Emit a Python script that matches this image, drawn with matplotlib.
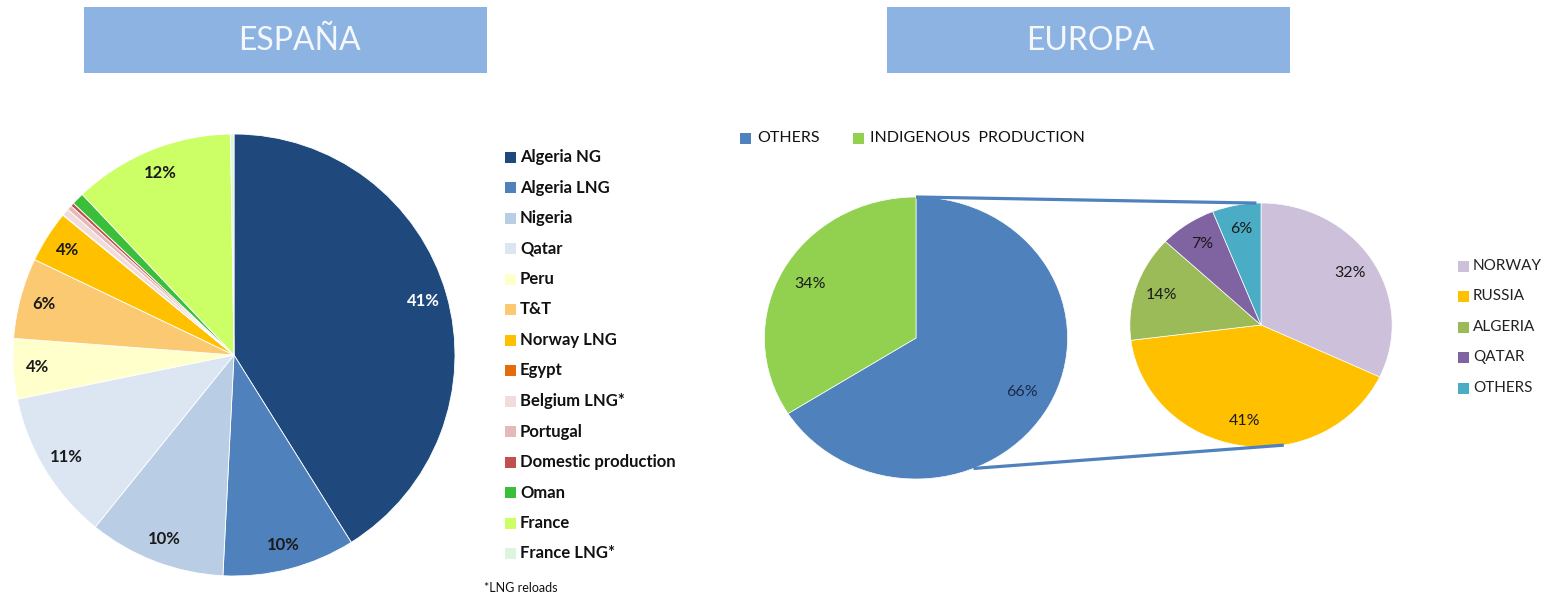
import numpy as np
import matplotlib
matplotlib.use("Agg")
import matplotlib.pyplot as plt
from matplotlib.patches import Rectangle

# ---------------- data ----------------
spain_labels = ["Algeria NG", "Algeria LNG", "Nigeria", "Qatar", "Peru", "T&T",
                "Norway LNG", "Egypt", "Belgium LNG*", "Portugal",
                "Domestic production", "Oman", "France", "France LNG*"]
spain_values = [41.1, 9.7, 10.0, 11.0, 4.4, 5.9, 3.8, 0.05, 0.5, 0.35, 0.25, 0.9, 11.8, 0.25]
spain_colors = ["#1F497D", "#4F81BD", "#B9CDE5", "#DCE6F2", "#FFFFCC", "#FBC972",
                "#FFC000", "#E46C0A", "#F2DCDB", "#E6B9B8", "#C0504D", "#3BBF3B",
                "#CCFF66", "#DDF5DD"]
spain_note = "*LNG reloads"

eu_main_labels = ["OTHERS", "INDIGENOUS  PRODUCTION"]
eu_main_values = [66, 34]
eu_main_colors = ["#4F81BD", "#92D050"]

eu_sub_labels = ["NORWAY", "RUSSIA", "ALGERIA", "QATAR", "OTHERS"]
eu_sub_values = [32, 41, 14, 7, 6]
eu_sub_colors = ["#CCC0DA", "#FFC000", "#9BBB59", "#8064A2", "#4BACC6"]

titles = ["ESPAÑA", "EUROPA"]

# ---------------- figure ----------------
W, H = 1558, 603
FONT = ["Lato", "DejaVu Sans"]
plt.rcParams["font.family"] = FONT

fig = plt.figure(figsize=(W / 100, H / 100), dpi=100)
fig.patch.set_facecolor("white")


def py(y):
    return H - y


# Spain axes in pixel coordinates (y up)
ax = fig.add_axes([0, 0, 1, 1])

wedges, texts, autotexts = ax.pie(
    spain_values, colors=spain_colors, startangle=90, counterclock=False,
    center=(234, py(355)), radius=221,
    autopct=lambda p: f"{p:.0f}%" if p >= 2 else "", pctdistance=0.89,
    wedgeprops=dict(edgecolor="white", linewidth=0.6),
    textprops=dict(fontsize=12, fontweight="bold", color="#1a1a1a"))
autotexts[0].set_color("white")

# title boxes
box_color = "#8DB3E2"
for x0, txt, tx in [(84, titles[0], 299), (887, titles[1], 1090)]:
    ax.add_patch(Rectangle((x0, py(73)), 403, 66, facecolor=box_color,
                           edgecolor="none"))
    ax.text(tx, py(41), txt, fontsize=23, color="#F4F8FC", ha="center",
            va="center")

# Spain legend
for i, (lab, col) in enumerate(zip(spain_labels, spain_colors)):
    yc = 157 + i * 30.5
    ax.add_patch(Rectangle((505, py(yc) - 5.5), 11, 11, facecolor=col,
                           edgecolor="none"))
    ax.text(520, py(yc), lab, fontsize=12, fontweight="bold", color="#111111",
            ha="left", va="center")
ax.text(484, py(588), spain_note, fontsize=9, color="#111111", ha="left",
        va="center")

ax.set_xlim(0, W)
ax.set_ylim(0, H)
ax.set_aspect("auto")
ax.axis("off")

# Europe axes (horizontally stretched like the original chart)
SX = 1.075
ax2 = fig.add_axes([0, 0, 1, 1])
ax2.patch.set_alpha(0)

c1 = (916 / SX, py(338)); r1 = 141
c2 = (1261 / SX, py(325)); r2 = 122

# connector lines
def on_circle(c, r, deg):
    a = np.deg2rad(deg)
    return c[0] + r * np.cos(a), c[1] + r * np.sin(a)

for a1, a2 in [(90, 92), (-67.7, -80)]:
    p1 = on_circle(c1, r1, a1)
    p2 = on_circle(c2, r2, a2)
    ax2.plot([p1[0], p2[0]], [p1[1], p2[1]], color="#4F81BD", lw=2.3,
             solid_capstyle="butt", zorder=3)

w1, t1, at1 = ax2.pie(
    eu_main_values, colors=eu_main_colors, startangle=90, counterclock=False,
    center=c1, radius=r1, autopct=lambda p: f"{p:.0f}%", pctdistance=0.8,
    wedgeprops=dict(edgecolor="white", linewidth=0.5),
    textprops=dict(fontsize=11.5, color="#1a1a1a"))
at1[0].set_color("#1B2A4A")

w2, t2, at2 = ax2.pie(
    eu_sub_values, colors=eu_sub_colors, startangle=90, counterclock=False,
    center=c2, radius=r2, autopct=lambda p: f"{p:.0f}%", pctdistance=0.8,
    wedgeprops=dict(edgecolor="white", linewidth=0.5),
    textprops=dict(fontsize=11.5, color="#1a1a1a"))

ax2.set_xlim(0, W / SX)
ax2.set_ylim(0, H)
ax2.set_aspect("auto")
ax2.axis("off")

# Europe top legend (pixel coords on ax)
leg_x = [740, 853]
for x0, lab, col in zip(leg_x, eu_main_labels, eu_main_colors):
    ax.add_patch(Rectangle((x0, py(138) - 5.5), 11, 11, facecolor=col,
                           edgecolor="none"))
    ax.text(x0 + 17, py(138), lab, fontsize=11.5, color="#111111",
            ha="left", va="center")

# Europe right legend
for i, (lab, col) in enumerate(zip(eu_sub_labels, eu_sub_colors)):
    yc = 266 + i * 30.5
    ax.add_patch(Rectangle((1458, py(yc) - 5.5), 11, 11, facecolor=col,
                           edgecolor="none"))
    ax.text(1473, py(yc), lab, fontsize=11, color="#222222", ha="left",
            va="center")

fig.savefig("out.png", dpi=100, facecolor="white")
